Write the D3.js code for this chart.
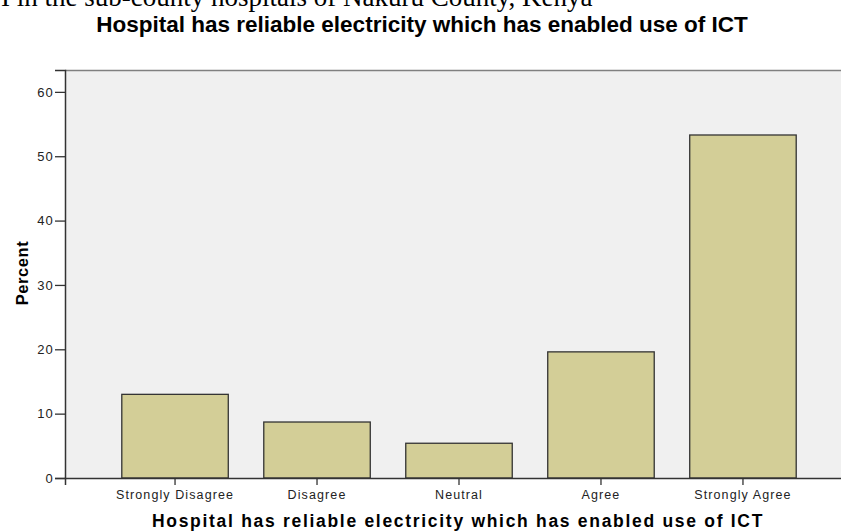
<!DOCTYPE html>
<html>
<head>
<meta charset="utf-8">
<script src="https://cdn.jsdelivr.net/npm/d3@7/dist/d3.min.js"></script>
<style>
  html, body { margin: 0; padding: 0; background: #fff; }
  svg { display: block; }
</style>
</head>
<body>
<svg id="chart" width="841" height="532"></svg>
<script>
const categories = ["Strongly Disagree", "Disagree", "Neutral", "Agree", "Strongly Agree"];
const percentValues = [13.0, 8.7, 5.4, 19.6, 53.3];
const yTicks = [0, 10, 20, 30, 40, 50, 60];
const chartTitle = "Hospital has reliable electricity which has enabled use of ICT";
const xAxisTitle = "Hospital has reliable electricity which has enabled use of ICT";
const yAxisTitle = "Percent";
const captionText = "I in the sub-county hospitals of Nakuru County, Kenya";

(function () {
const svg = d3.select("#chart");
const pLeft = 65, pTop = 70, pBottom = 478, pRight = 853;

const x = d3.scaleBand().domain(categories).range([pLeft, pRight])
  .paddingInner(0.25).paddingOuter(0.4);
const y = d3.scaleLinear().domain([0, 63.4]).range([pBottom, pTop]);

// cut-off caption at top (serif)
svg.append("text").attr("x", 1).attr("y", 6)
  .attr("font-family", "Liberation Serif, Times New Roman, serif")
  .attr("font-size", 27).attr("fill", "#000").text(captionText);

// chart title
svg.append("text").attr("x", 422).attr("y", 32).attr("text-anchor", "middle")
  .attr("font-family", "Liberation Sans, Arial, sans-serif")
  .attr("font-weight", "bold").attr("font-size", 22.5)
  .attr("fill", "#000").text(chartTitle);

// plot background
svg.append("rect").attr("x", pLeft).attr("y", pTop)
  .attr("width", pRight - pLeft).attr("height", pBottom - pTop)
  .attr("fill", "#f0f0f0");

// top border
svg.append("line").attr("x1", pLeft).attr("x2", pRight).attr("y1", pTop + 0.5).attr("y2", pTop + 0.5)
  .attr("stroke", "#808080").attr("stroke-width", 1.5);

// bars
svg.append("g").selectAll("rect").data(categories).join("rect")
  .attr("x", d => x(d))
  .attr("y", (d, i) => y(percentValues[i]))
  .attr("width", x.bandwidth())
  .attr("height", (d, i) => y(0) - y(percentValues[i]))
  .attr("fill", "#d3ce97")
  .attr("stroke", "#333")
  .attr("stroke-width", 1.3);

// y axis
const yAxis = d3.axisLeft(y).tickValues(yTicks).tickSize(10).tickPadding(1).tickFormat(d3.format("d"));
const gy = svg.append("g").attr("transform", `translate(${pLeft},0)`).call(yAxis);
gy.select(".domain").attr("stroke", "#333").attr("stroke-width", 1.5);
gy.selectAll(".tick line").attr("stroke", "#333").attr("stroke-width", 1.3);
gy.selectAll(".tick text").attr("font-family", "Liberation Sans, Arial, sans-serif")
  .attr("font-size", 13).attr("letter-spacing", 1.2).attr("fill", "#222");

// x axis
const xAxis = d3.axisBottom(x).tickSize(7).tickPadding(5);
const gx = svg.append("g").attr("transform", `translate(0,${pBottom})`).call(xAxis);
gx.select(".domain").attr("stroke", "#333").attr("stroke-width", 1.5);
gx.selectAll(".tick line").attr("stroke", "#333").attr("stroke-width", 1.3);
gx.selectAll(".tick text").attr("font-family", "Liberation Sans, Arial, sans-serif")
  .attr("font-size", 12.5).attr("letter-spacing", 1.1).attr("fill", "#222");

// axis titles
svg.append("text").attr("x", 458).attr("y", 527).attr("text-anchor", "middle")
  .attr("font-family", "Liberation Sans, Arial, sans-serif")
  .attr("font-weight", "bold").attr("font-size", 17.5).attr("letter-spacing", 1.7)
  .attr("fill", "#000").text(xAxisTitle);

svg.append("text").attr("transform", "translate(28,273) rotate(-90)")
  .attr("text-anchor", "middle")
  .attr("font-family", "Liberation Sans, Arial, sans-serif")
  .attr("font-weight", "bold").attr("font-size", 16.5).attr("letter-spacing", 0.6)
  .attr("fill", "#000").text(yAxisTitle);
})();
</script>
</body>
</html>
